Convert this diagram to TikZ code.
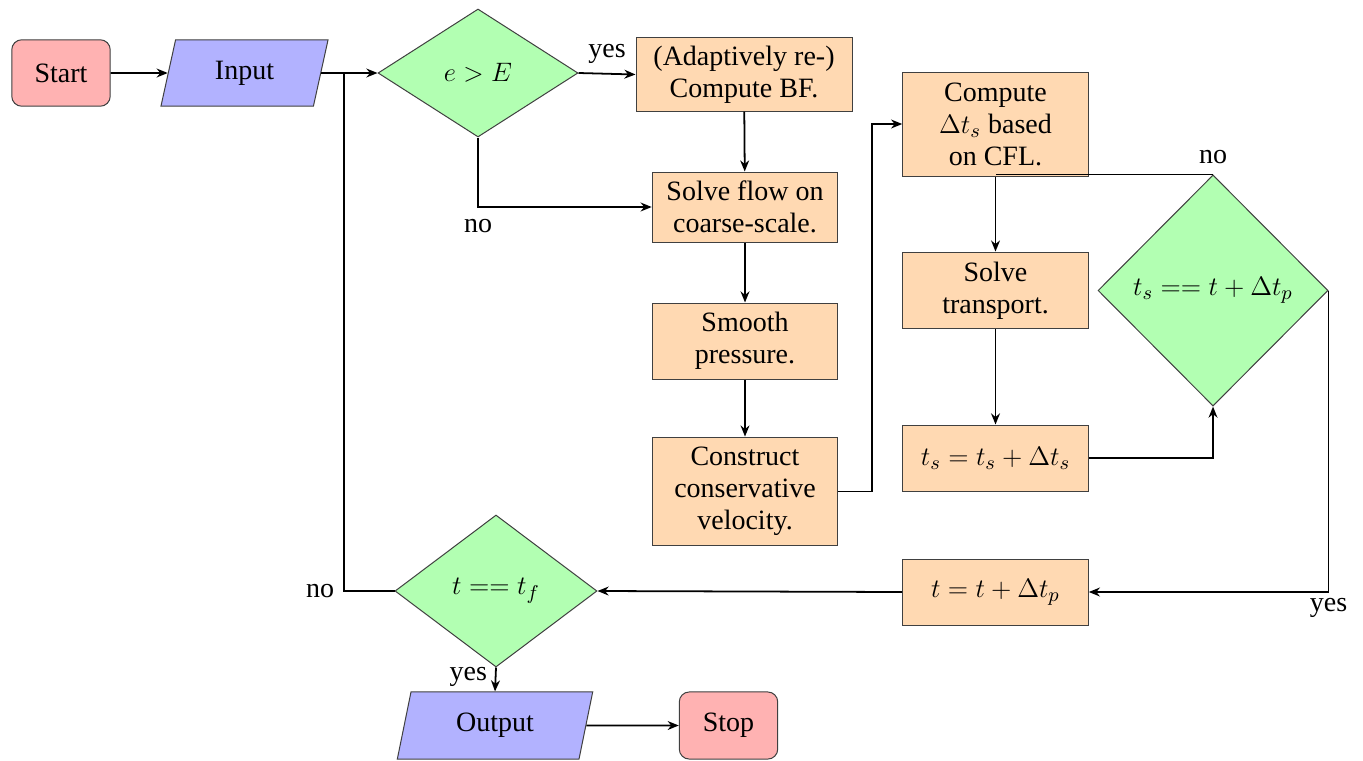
\documentclass[tikz,border=0pt]{standalone}
\usepackage{fontspec}
\setmainfont{Liberation Serif}
\usetikzlibrary{shapes.geometric,arrows.meta}
\begin{document}
\begin{tikzpicture}[x=0.45pt,y=-0.45pt,
  every node/.style={font=\fontsize{12.6}{14.4}\selectfont},
  shp/.style={draw=black!75,line width=0.45pt,align=center,inner sep=0pt},
  term/.style={shp,rectangle,rounded corners=4.5pt,fill=red!30,minimum width=44.3pt,minimum height=29.9pt},
  io/.style={shp,trapezium,trapezium left angle=75.5,trapezium right angle=104.5,trapezium stretches=true,fill=blue!30,minimum height=29.9pt},
  proc/.style={shp,rectangle,fill=orange!30,minimum width=83.5pt},
  dec/.style={shp,diamond,fill=green!30},
  conn/.style={line width=0.8pt,-{Stealth[length=5pt,width=4pt]}},
  line/.style={line width=0.8pt},
  lbl/.style={inner sep=1.5pt}]
\useasboundingbox (0,0) rectangle (1363,760);
% nodes
\node[term] (start) at (61,73) {Start};
\node[io,minimum width=75.2pt] (input) at (244.5,73) {Input};
\node[dec,minimum width=90pt,minimum height=57.6pt] (d1) at (478,73) {$e>E$};
\node[proc,minimum width=97.2pt,minimum height=32.9pt] (bf) at (744,74.5) {(Adaptively re-)\\Compute BF.};
\node[proc,minimum height=31.5pt] (flow) at (745,207) {Solve flow on\\coarse-scale.};
\node[proc,minimum height=34.2pt] (smooth) at (745,341) {Smooth\\pressure.};
\node[proc,minimum height=49pt] (cons) at (745,491.5) {Construct\\conservative\\velocity.};
\node[proc,minimum height=46.8pt] (dt) at (995.5,124) {Compute\\$\Delta t_s$ based\\on CFL.};
\node[proc,minimum height=34.6pt] (trans) at (995.5,290.5) {Solve\\transport.};
\node[proc,minimum height=29.7pt] (ts) at (995.5,458) {$t_s=t_s+\Delta t_s$};
\node[proc,minimum height=29.7pt] (tt) at (995.5,592) {$t=t+\Delta t_p$};
\node[dec,minimum width=103.5pt,minimum height=104pt] (d2) at (1213,290.5) {$t_s==t+\Delta t_p$};
\node[dec,minimum width=90.9pt,minimum height=68.4pt] (d3) at (496,591) {$t==t_f$};
\node[io,minimum width=88.2pt,minimum height=30.2pt] (out) at (495,725.5) {Output};
\node[term,minimum height=30.2pt] (stop) at (728.5,725.5) {Stop};
\coordinate (j1) at (344,73);
\coordinate (j2) at (d2.north -| trans.north);
% connectors
\draw[conn] (start) -- (input);
\draw[conn] (input.east) -- (d1.west);
\draw[conn] (d1.east) -- node[lbl,above=2.5pt]{yes} (bf.west);
\draw[conn] (d1.south) |- node[lbl,below=3.5pt,pos=0.5]{no} (flow.west);
\draw[conn] (bf) -- (flow);
\draw[conn] (flow) -- (smooth);
\draw[conn] (smooth) -- (cons);
\draw[conn] (cons.east) -- ++(34,0) |- (dt.west);
\draw[conn] (dt.south) -- (trans.north);
\draw[line] (d2.north) -- node[pos=0,lbl,above=3pt]{no} (j2);
\draw[conn] (trans) -- (ts);
\draw[conn] (ts.east) -| (d2.south);
\draw[conn] (d2.east) |- node[pos=0.5,lbl,below=1pt]{yes} (tt.east);
\draw[conn] (tt.west) -- (d3.east);
\draw[line] (d3.west) -- node[pos=1,lbl,left=2.5pt]{no} (d3.west -| j1) -- (j1);
\draw[conn] (d3.south) -- node[lbl,left=2pt,pos=0.4]{yes} (out.north);
\draw[conn] (out.east) -- (stop.west);
\end{tikzpicture}
\end{document}
